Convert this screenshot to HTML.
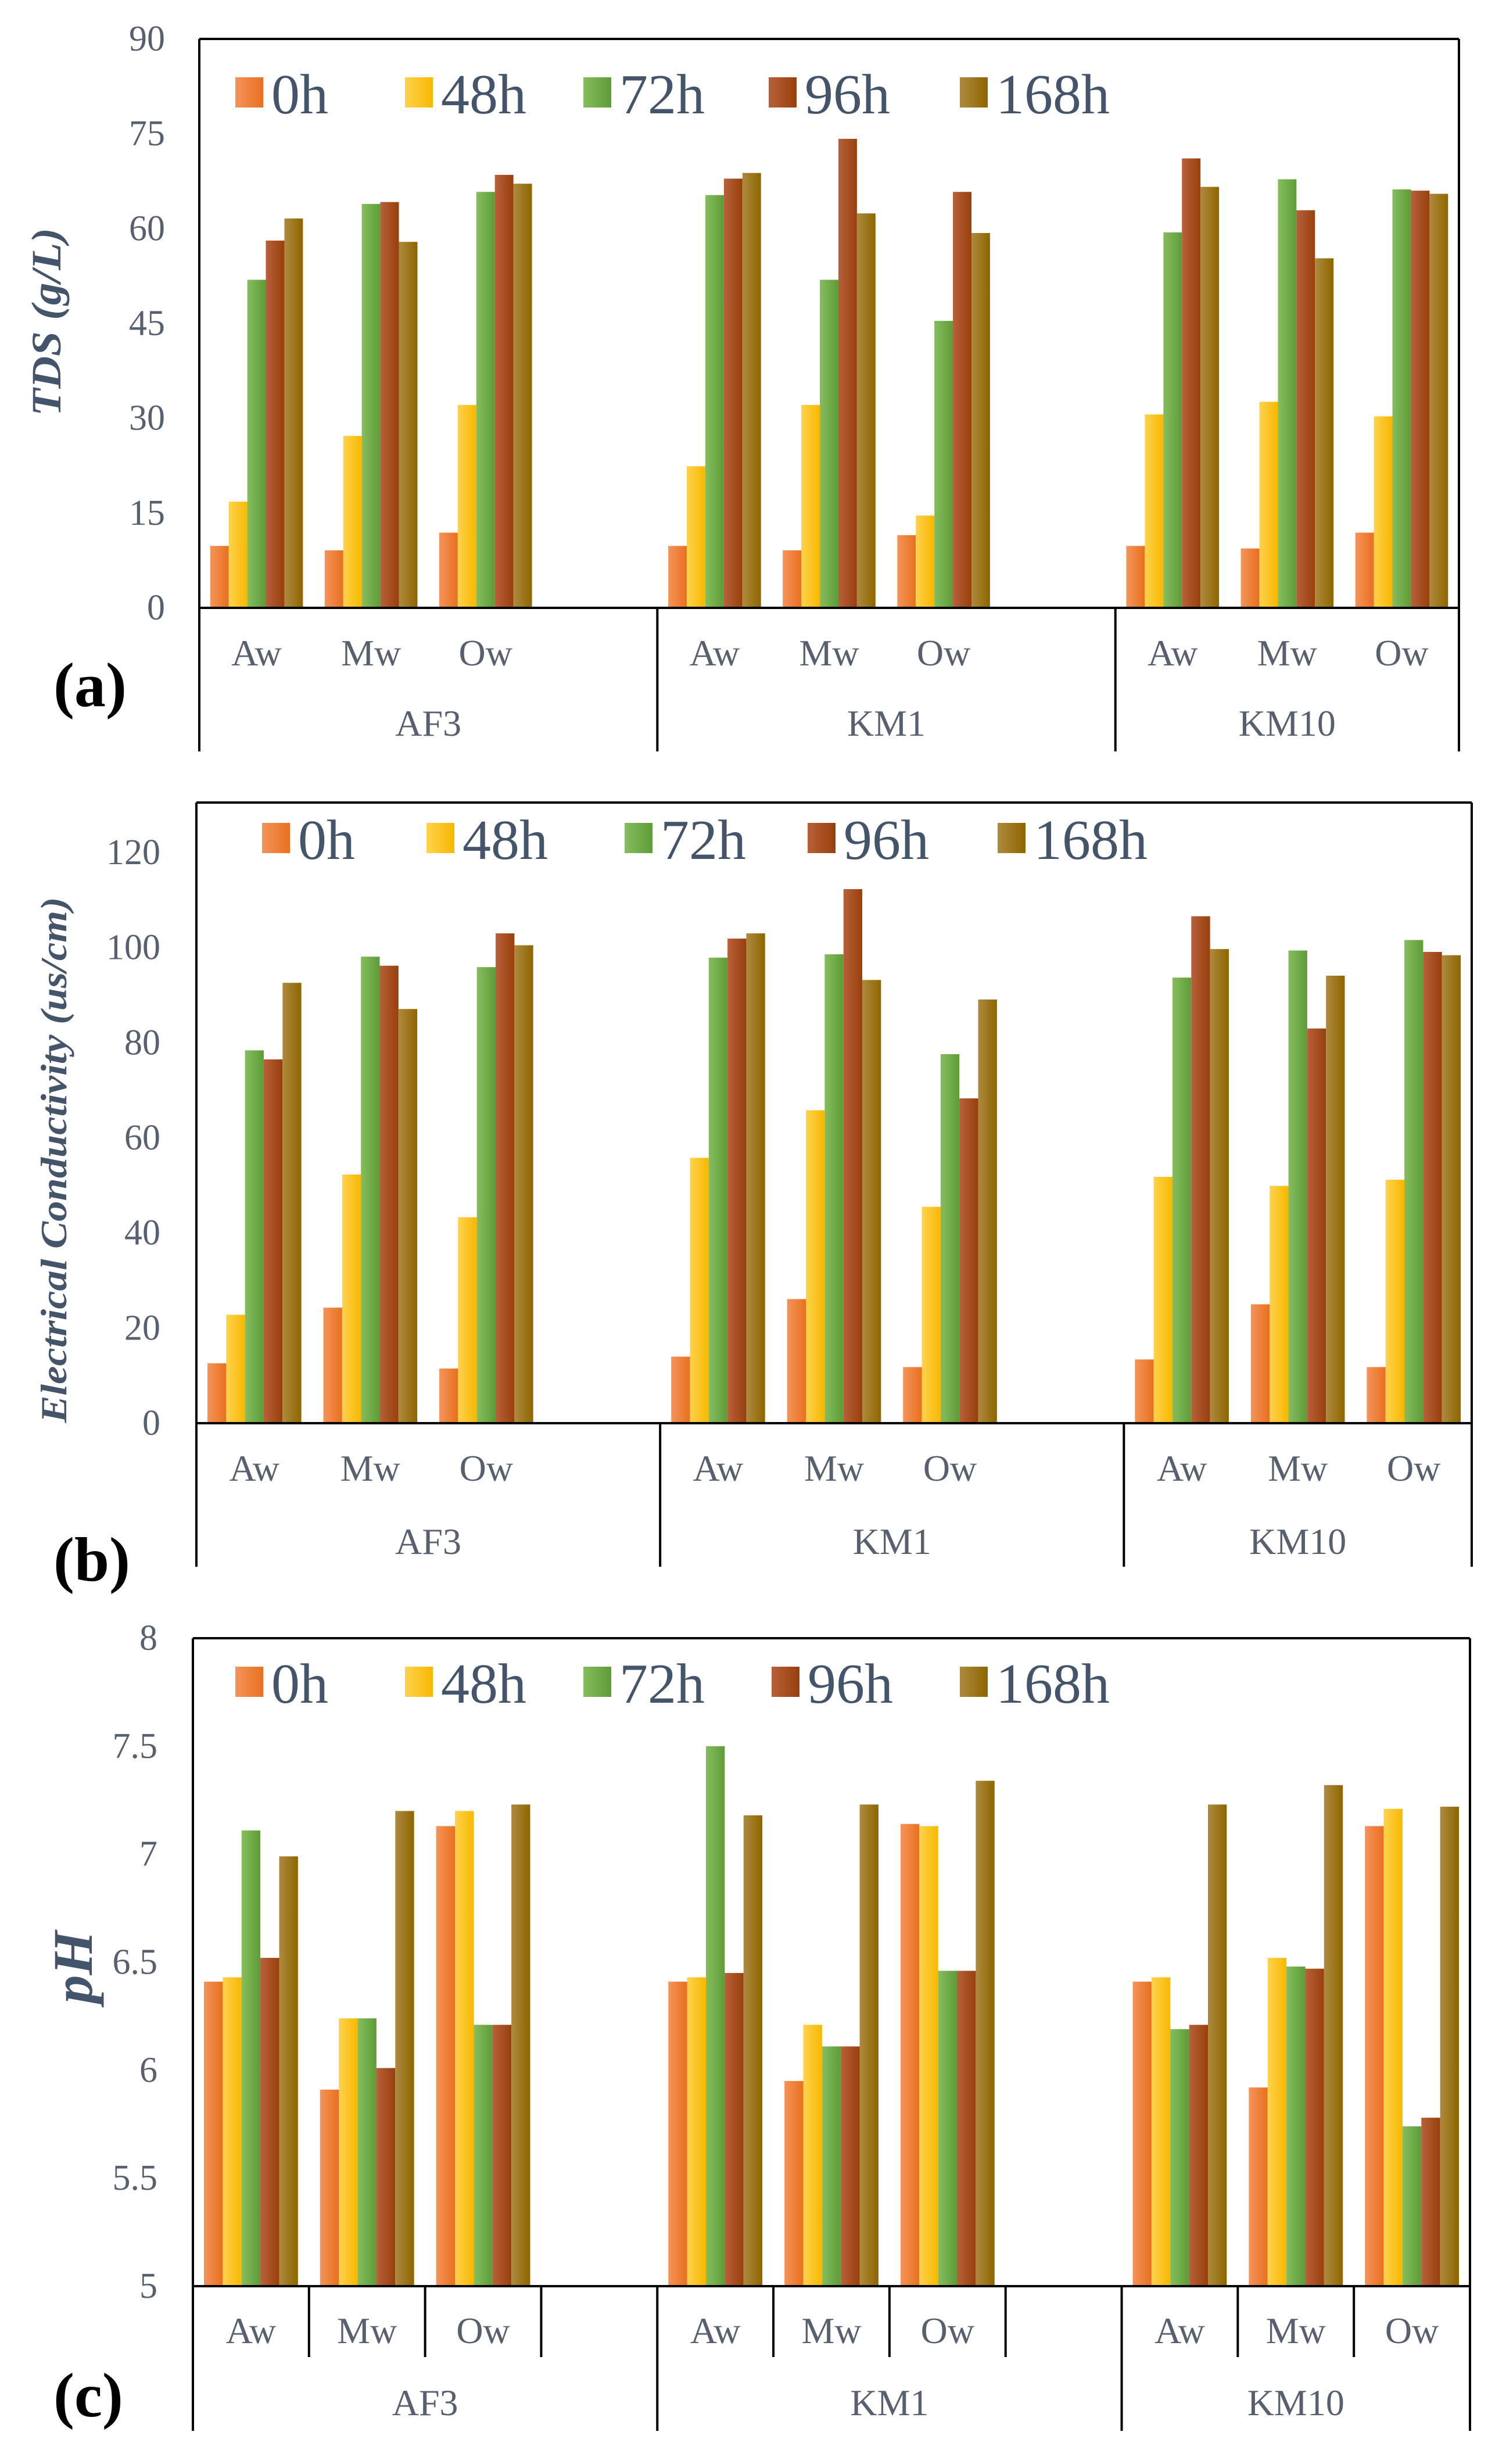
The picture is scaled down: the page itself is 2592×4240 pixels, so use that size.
<!DOCTYPE html>
<html><head><meta charset="utf-8"><style>
html,body{margin:0;padding:0;background:#fff;}
svg{display:block;}
text{font-family:"Liberation Serif",serif;}
</style></head><body>
<svg id="fig" width="2592" height="4240" viewBox="0 0 2592 4240" xmlns="http://www.w3.org/2000/svg">
<defs>
<linearGradient id="g0" x1="0" x2="1" y1="0" y2="0"><stop offset="0" stop-color="#f4945a"/><stop offset="1" stop-color="#e8701f"/></linearGradient>
<linearGradient id="g1" x1="0" x2="1" y1="0" y2="0"><stop offset="0" stop-color="#ffd24d"/><stop offset="1" stop-color="#f7b800"/></linearGradient>
<linearGradient id="g2" x1="0" x2="1" y1="0" y2="0"><stop offset="0" stop-color="#86bd5e"/><stop offset="1" stop-color="#5e9c38"/></linearGradient>
<linearGradient id="g3" x1="0" x2="1" y1="0" y2="0"><stop offset="0" stop-color="#b8603a"/><stop offset="1" stop-color="#98400c"/></linearGradient>
<linearGradient id="g4" x1="0" x2="1" y1="0" y2="0"><stop offset="0" stop-color="#ae8a3e"/><stop offset="1" stop-color="#8e6500"/></linearGradient>
</defs>
</svg>
<script>
const series = ["0h","48h","72h","96h","168h"];
const groups = ["AF3","KM1","KM10"];
const cats = ["Aw","Mw","Ow"];
// values per category (AF3 Aw..Ow, KM1 Aw..Ow, KM10 Aw..Ow), one array per series
const tds0h   = [9.8, 9.1, 11.9, 9.8, 9.1, 11.5, 9.8, 9.4, 11.9];
const tds48h  = [16.8, 27.2, 32.1, 22.4, 32.1, 14.6, 30.6, 32.6, 30.3];
const tds72h  = [51.9, 63.9, 65.8, 65.3, 51.9, 45.4, 59.4, 67.8, 66.2];
const tds96h  = [58.1, 64.2, 68.5, 67.9, 74.2, 65.8, 71.1, 62.9, 66.0];
const tds168h = [61.6, 57.9, 67.1, 68.8, 62.4, 59.3, 66.6, 55.3, 65.5];
const tdsTicks = ["0","15","30","45","60","75","90"];

const ec0h   = [12.6, 24.3, 11.5, 14.0, 26.1, 11.8, 13.4, 25.0, 11.8];
const ec48h  = [22.8, 52.3, 43.3, 55.8, 65.8, 45.5, 51.8, 49.9, 51.2];
const ec72h  = [78.4, 98.1, 95.9, 97.9, 98.6, 77.6, 93.7, 99.4, 101.6];
const ec96h  = [76.5, 96.2, 103.0, 101.9, 112.3, 68.3, 106.6, 83.0, 99.1];
const ec168h = [92.6, 87.1, 100.5, 103.0, 93.2, 89.1, 99.7, 94.1, 98.4];
const ecTicks = ["0","20","40","60","80","100","120"];

const ph0h   = [6.41, 5.91, 7.13, 6.41, 5.95, 7.14, 6.41, 5.92, 7.13];
const ph48h  = [6.43, 6.24, 7.20, 6.43, 6.21, 7.13, 6.43, 6.52, 7.21];
const ph72h  = [7.11, 6.24, 6.21, 7.50, 6.11, 6.46, 6.19, 6.48, 5.74];
const ph96h  = [6.52, 6.01, 6.21, 6.45, 6.11, 6.46, 6.21, 6.47, 5.78];
const ph168h = [6.99, 7.20, 7.23, 7.18, 7.23, 7.34, 7.23, 7.32, 7.22];
const phTicks = ["5","5.5","6","6.5","7","7.5","8"];

const NS = "http://www.w3.org/2000/svg";
const svg = document.getElementById("fig");
function mk(tag, attrs, parent){
  const e = document.createElementNS(NS, tag);
  for (const k in attrs) e.setAttribute(k, attrs[k]);
  (parent||svg).appendChild(e);
  return e;
}
function panel(p){
  const g = mk("g", {});
  
  
  const slot = (p.right - p.left) / 11;
  const y = v => p.zeroY - (v - p.min) / (p.max - p.min) * (p.zeroY - p.topValY);
  const slotIdx = i => Math.floor(i/3)*4 + (i%3);
  p.ticks.forEach(t => {
    const tx = mk("text", {x:p.tickX, y:y(parseFloat(t))+20, "text-anchor":"end", "font-size":62, fill:"#56606e"}, g);
    tx.textContent = t;
    
    
  });
  const bw = slot*0.162;
  p.data.forEach((arr, si) => {
    arr.forEach((v, i) => {
      const x0 = p.left + slotIdx(i)*slot + slot*0.095 + si*bw;
      const r = mk("rect", {x:x0, y:y(v), width:bw, height:p.zeroY - y(v), fill:"url(#g"+si+")"}, g);
      
      
    });
  });
  const st = {stroke:"#000", "stroke-width":4, fill:"none"};
  const fr = mk("path", Object.assign({d:`M${p.left},${p.plotTop} H${p.right} M${p.left},${p.plotTop} V${p.groupBottom} M${p.right},${p.plotTop} V${p.groupBottom} M${p.left},${p.zeroY} H${p.right}`}, st), g);
  
  
  [4,8].forEach(k => {
    const l = mk("line", Object.assign({x1:p.left+k*slot, x2:p.left+k*slot, y1:p.zeroY, y2:p.groupBottom}, st), g);
    
    
  });
  if (p.catSep){
    [1,2,3,5,6,7,9,10].forEach(k => {
      const l = mk("line", Object.assign({x1:p.left+k*slot, x2:p.left+k*slot, y1:p.zeroY, y2:p.catBottom}, st), g);
      
      
    });
  }
  for (let i=0;i<9;i++){
    const t = mk("text", {x:p.left+(slotIdx(i)+0.5)*slot, y:p.catY, "text-anchor":"middle", "font-size":64, fill:"#56606e"}, g);
    t.textContent = cats[i%3];
    
    
  }
  const gs = [[0,4],[4,8],[8,11]];
  groups.forEach((gn, gi) => {
    const t = mk("text", {x:p.left+(gs[gi][0]+gs[gi][1])/2*slot, y:p.grpY, "text-anchor":"middle", "font-size":64, fill:"#56606e"}, g);
    t.textContent = gn;
    
    
  });
  series.forEach((s, si) => {
    const lx = p.legX[si];
    const sq = mk("rect", {x:lx, y:p.legY-62, width:48, height:52, fill:"url(#g"+si+")"}, g);
    
    
    const t = mk("text", {x:lx+62, y:p.legY, "font-size":98, fill:"#44546a"}, g);
    t.textContent = s;
    
    
  });
  const yt = mk("text", {x:0, y:0, transform:`translate(${p.titleX},${p.titleY}) rotate(-90)`, "text-anchor":"middle", "font-size":p.titleSize, "font-weight":"bold", "font-style":"italic", fill:"#44546a", textLength:p.titleLen, lengthAdjust:"spacingAndGlyphs"}, g);
  yt.textContent = p.title;
  
  
  const pl = mk("text", {x:p.letterX, y:p.letterY, "font-size":108, "font-weight":"bold", fill:"#000"}, g);
  pl.textContent = p.letter;
  
  
}
panel({name:"tds-chart", left:343, right:2511, plotTop:67, topValY:67, zeroY:1046, min:0, max:90,
  ticks:tdsTicks, tickX:284, data:[tds0h,tds48h,tds72h,tds96h,tds168h],
  groupBottom:1293, catSep:false, catY:1145, grpY:1266,
  legX:[405,697,1004,1323,1652], legY:195,
  title:"TDS (g/L)", titleX:104, titleY:554, titleSize:72, titleLen:324,
  letter:"(a)", letterX:92, letterY:1215});
panel({name:"ec-chart", left:338, right:2533, plotTop:1381, topValY:1467, zeroY:2449, min:0, max:120,
  ticks:ecTicks, tickX:276, data:[ec0h,ec48h,ec72h,ec96h,ec168h],
  groupBottom:2696, catSep:false, catY:2548, grpY:2674,
  legX:[451,734,1075,1390,1717], legY:1478,
  title:"Electrical Conductivity  (us/cm)", titleX:114, titleY:1996, titleSize:64, titleLen:905,
  letter:"(b)", letterX:92, letterY:2720});
panel({name:"ph-chart", left:332, right:2530, plotTop:2819, topValY:2819, zeroY:3934, min:5, max:8,
  ticks:phTicks, tickX:271, data:[ph0h,ph48h,ph72h,ph96h,ph168h],
  groupBottom:4183, catSep:true, catBottom:4056, catY:4032, grpY:4156,
  legX:[405,697,1004,1328,1652], legY:2930,
  title:"pH", titleX:158, titleY:3385, titleSize:96, titleLen:125,
  letter:"(c)", letterX:92, letterY:4158});
</script>
</body></html>
